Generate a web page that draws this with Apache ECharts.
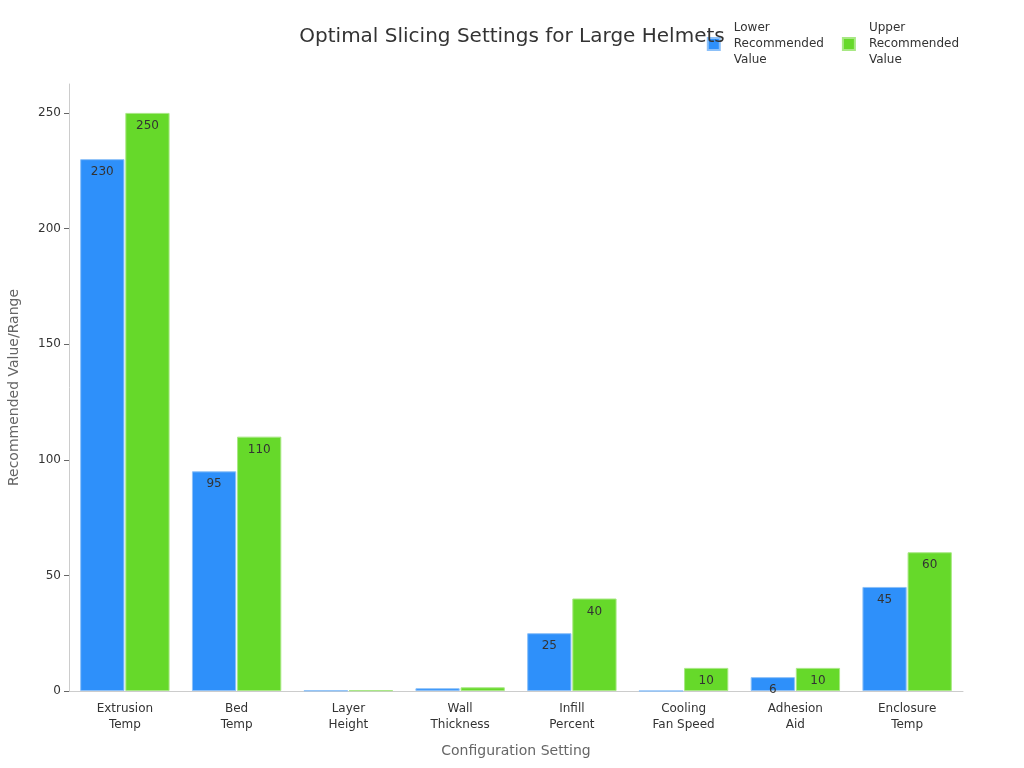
<!DOCTYPE html>
<html><head><meta charset="utf-8">
<script src="https://cdn.jsdelivr.net/npm/echarts@6/dist/echarts.min.js"></script>
<style>html,body{margin:0;padding:0;background:#fff}#c{width:1024px;height:768px}</style>
</head><body><div id="c"></div>
<script>
const categories = ["Extrusion\nTemp","Bed\nTemp","Layer\nHeight","Wall\nThickness","Infill\nPercent","Cooling\nFan Speed","Adhesion\nAid","Enclosure\nTemp"];
const lowerValues = [230, 95, 0.2, 1.2, 25, 0, 6, 45];
const upperValues = [250, 110, 0.3, 1.6, 40, 10, 10, 60];
const seriesNames = ["Lower\nRecommended\nValue", "Upper\nRecommended\nValue"];
const chart = echarts.init(document.getElementById('c'));
const lbl = {show:true, position:'insideTop', distance:7, color:'#333', fontSize:12, fontFamily:'DejaVu Sans', formatter: p => (p.value >= 2 ? p.value : '')};
chart.setOption({
  title:{text:'Optimal Slicing Settings for Large Helmets', left:'center', top:22, textStyle:{fontSize:20, fontWeight:'normal', color:'#333', fontFamily:'DejaVu Sans'}},
  legend:{right:60, top:15, itemWidth:12, itemHeight:12, itemGap:18, icon:'rect',
    textStyle:{fontSize:12, color:'#333', fontFamily:'DejaVu Sans', lineHeight:16, padding:[0,0,0,9]}},
  grid:{left:69, right:61, top:84, bottom:77, outerBoundsMode:'none', containLabel:false},
  xAxis:{type:'category', data:categories, name:'Configuration Setting', nameLocation:'middle', nameGap:53,
    nameTextStyle:{fontSize:14, color:'#666', fontFamily:'DejaVu Sans'},
    axisLine:{lineStyle:{color:'#ccc'}}, axisTick:{alignWithLabel:true, lineStyle:{color:'#666'}},
    axisLabel:{color:'#333', fontSize:12, fontFamily:'DejaVu Sans', lineHeight:16, margin:10}},
  yAxis:{type:'value', min:0, max:262.5, interval:50, name:'Recommended Value/Range', nameLocation:'middle', nameGap:48,
    nameTextStyle:{fontSize:14, color:'#666', fontFamily:'DejaVu Sans'},
    axisLine:{show:true, lineStyle:{color:'#ccc'}}, axisTick:{show:true, lineStyle:{color:'#666'}},
    splitLine:{show:false},
    axisLabel:{color:'#333', fontSize:12, fontFamily:'DejaVu Sans', showMaxLabel:false}},
  series:[
    {name:seriesNames[0], type:'bar', data:lowerValues, barGap:'2%', barCategoryGap:'20%',
     itemStyle:{color:'#2E90FA', borderColor:'#8cc0f8', borderWidth:1}, label:lbl},
    {name:seriesNames[1], type:'bar', data:upperValues,
     itemStyle:{color:'#66D92A', borderColor:'#a8e884', borderWidth:1}, label:lbl}
  ]
});
</script></body></html>
